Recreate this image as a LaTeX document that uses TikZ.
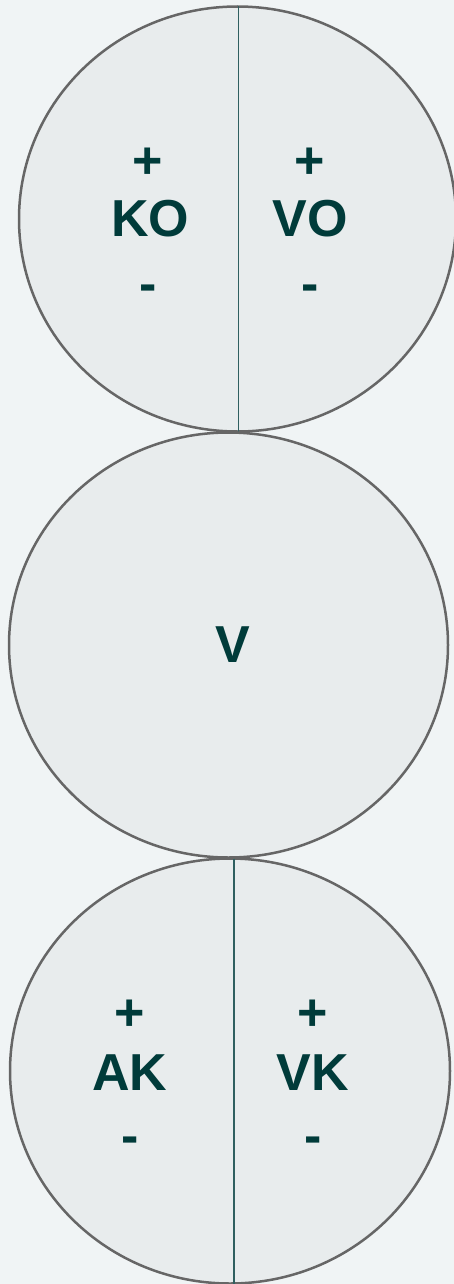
\documentclass[tikz,border=0pt]{standalone}
\usepackage{fontspec}
\setmainfont{Liberation Sans}
\usetikzlibrary{shapes.geometric}
\definecolor{bgc}{HTML}{F0F4F5}
\definecolor{fillc}{HTML}{E8ECED}
\definecolor{strokec}{HTML}{666666}
\definecolor{linec}{HTML}{2F5F60}
\definecolor{textc}{HTML}{003B3A}
\tikzset{
  oval/.style={ellipse, draw=strokec, fill=fillc, line width=2.5pt, inner sep=0pt},
  divider/.style={draw=linec, line width=1.8pt},
  lbl/.style={text=textc, font=\fontsize{52}{52}\selectfont\bfseries, inner sep=0pt, anchor=center},
}
\begin{document}
\begin{tikzpicture}[x=1pt,y=-1pt]
\useasboundingbox (0,0) rectangle (454,1284);
\fill[bgc] (0,0) rectangle (454,1284);
% top
\node[oval, minimum width=437pt, minimum height=425pt] (c1) at (237.5,219) {};
\coordinate (c1t) at (238.5,6.5);
\coordinate (c1b) at (238.5,431.5);
\draw[divider] (c1t) -- (c1b);
\node[lbl] (p1) at (148,163) {+};
\node[lbl] (ko) at (150,219) {KO};
\node[lbl] (m1) at (148,293) {-};
\node[lbl] (p2) at (310,163) {+};
\node[lbl] (vo) at (310,219) {VO};
\node[lbl] (m2) at (310,293) {-};
% middle
\node[oval, minimum width=439pt, minimum height=425pt] (c2) at (228.5,645) {};
\node[lbl] (v) at (233,645) {V};
% bottom
\node[oval, minimum width=440pt, minimum height=425pt] (c3) at (230,1071) {};
\coordinate (c3t) at (234,858.5);
\coordinate (c3b) at (234,1283.5);
\draw[divider] (c3t) -- (c3b);
\node[lbl] (p3) at (130,1015) {+};
\node[lbl] (ak) at (130,1073) {AK};
\node[lbl] (m3) at (130,1145) {-};
\node[lbl] (p4) at (313,1015) {+};
\node[lbl] (vk) at (313,1073) {VK};
\node[lbl] (m4) at (313,1145) {-};
\end{tikzpicture}
\end{document}
